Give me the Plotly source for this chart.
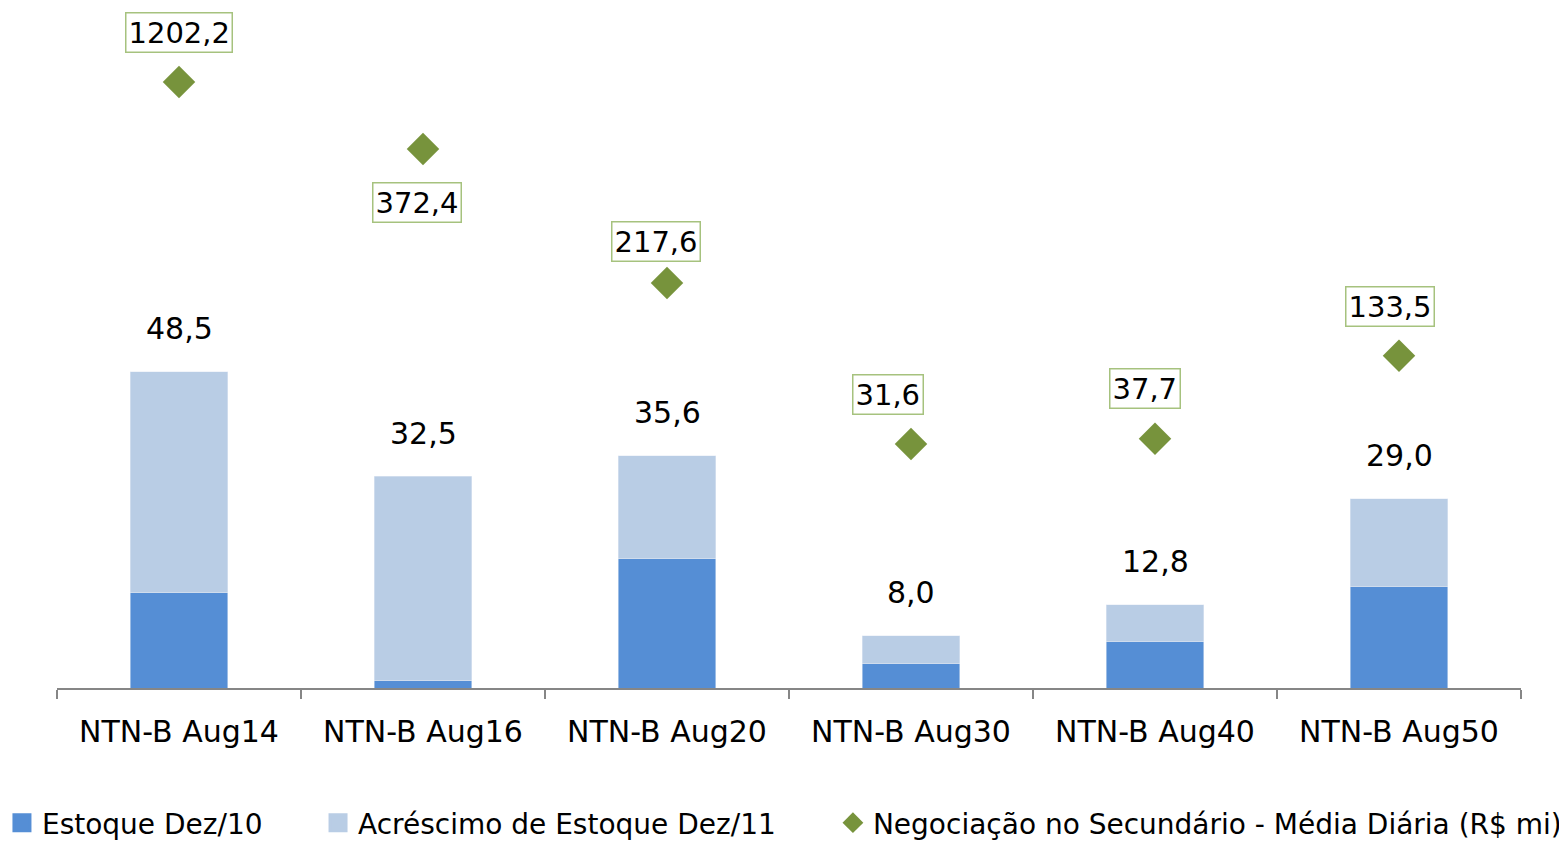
import plotly.graph_objects as go

categories = ["NTN-B Aug14", "NTN-B Aug16", "NTN-B Aug20", "NTN-B Aug30", "NTN-B Aug40", "NTN-B Aug50"]
estoque_dez10 = [14.6, 1.1, 19.8, 3.7, 7.1, 15.5]
acrescimo_dez11 = [33.9, 31.4, 15.8, 4.3, 5.7, 13.5]
negociacao_media = [1202.2, 372.4, 217.6, 31.6, 37.7, 133.5]
SEC_AXIS_CAP = 450  # secondary axis is truncated; larger values are pinned at the cap

FONT = "DejaVu Sans, Verdana, sans-serif"
C_DARK = "#558ED5"
C_LIGHT = "#B9CDE5"
C_GREEN = "#77933C"
C_BOX = "#A6C27E"


def fmt(v):
    return f"{v:.1f}".replace(".", ",")


totals = [a + b for a, b in zip(estoque_dez10, acrescimo_dez11)]
neg_plot = [min(v, SEC_AXIS_CAP) for v in negociacao_media]

fig = go.Figure()
fig.add_trace(go.Bar(x=categories, y=estoque_dez10, name="Estoque Dez/10",
                     marker=dict(color=C_DARK), width=0.4, showlegend=False,
                     legendgroup="a"))
fig.add_trace(go.Bar(x=categories, y=acrescimo_dez11, name="Acréscimo de Estoque Dez/11",
                     marker=dict(color=C_LIGHT), width=0.4, showlegend=False,
                     legendgroup="b"))
# legend proxies (bigger squares than the default bar legend glyph)
fig.add_trace(go.Scatter(x=[None], y=[None], mode="markers", name="Estoque Dez/10",
                         marker=dict(symbol="square", size=16, color=C_DARK,
                                     line=dict(color=C_DARK, width=3)),
                         legendgroup="a", legend="legend"))
fig.add_trace(go.Scatter(x=[None], y=[None], mode="markers", name="Acréscimo de Estoque Dez/11",
                         marker=dict(symbol="square", size=16, color=C_LIGHT,
                                     line=dict(color=C_LIGHT, width=3)),
                         legendgroup="b", legend="legend2"))
fig.add_trace(go.Scatter(x=categories, y=neg_plot, mode="markers", yaxis="y2",
                         name="Negociação no Secundário - Média Diária (R$ mi)",
                         marker=dict(symbol="diamond", size=25, color=C_GREEN),
                         legend="legend3"))

# total labels above bars
for c, t in zip(categories, totals):
    fig.add_annotation(x=c, y=t, xref="x", yref="y", text=fmt(t), showarrow=False,
                       yanchor="middle", yshift=43,
                       font=dict(family=FONT, size=30, color="black"))

# boxed labels for secondary series
label_dy = [49, -53, 42, 50, 50, 49]
label_dx = [0, -6, -11, -23, -10, -9]
for c, v, p, dy, dx in zip(categories, negociacao_media, neg_plot, label_dy, label_dx):
    fig.add_annotation(x=c, y=p, xref="x", yref="y2", text=fmt(v), showarrow=False,
                       yanchor="middle", yshift=dy, xshift=dx,
                       bgcolor="white", bordercolor=C_BOX, borderwidth=1.5, borderpad=2,
                       font=dict(family=FONT, size=29, color="black"))

leg_common = dict(orientation="h", yanchor="middle", xanchor="left", y=-0.2021,
                  bgcolor="rgba(0,0,0,0)", font=dict(family=FONT, size=28, color="black"),
                  itemclick=False, itemdoubleclick=False)
fig.update_layout(
    width=1559, height=834,
    margin=dict(l=49, r=46, t=12, b=154, autoexpand=False),
    paper_bgcolor="white", plot_bgcolor="white",
    barmode="stack",
    font=dict(family=FONT, color="black"),
    xaxis=dict(type="category", range=[-0.5, 5.5], showline=True, linecolor="#868686",
               linewidth=1.5, ticks="outside", tickson="boundaries", ticklen=9,
               tickcolor="#868686", tickwidth=1.5, showgrid=False,
               tickfont=dict(family=FONT, size=30, color="black"), ticklabelstandoff=16),
    yaxis=dict(range=[0, 102.45], visible=False, showgrid=False),
    yaxis2=dict(range=[-250.2, 521.5], overlaying="y", side="right", visible=False,
                showgrid=False),
    legend=dict(x=-0.0376, **leg_common),
    legend2=dict(x=0.1783, **leg_common),
    legend3=dict(x=0.5300, **leg_common),
)

fig.write_html("out.html")
